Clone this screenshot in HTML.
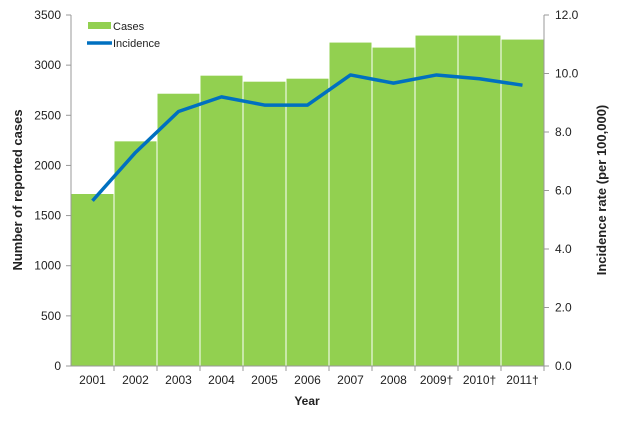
<!DOCTYPE html>
<html><head><meta charset="utf-8"><style>
body{margin:0;background:#fff}
svg text{font-family:"Liberation Sans",sans-serif;fill:#222}
</style></head><body>
<svg id="chart" width="620" height="416" viewBox="0 0 620 416"></svg>
<script>
const years=["2001","2002","2003","2004","2005","2006","2007","2008","2009†","2010†","2011†"];
const cases=[1720,2245,2720,2900,2840,2870,3230,3180,3300,3300,3260];
const incidence=[5.65,7.3,8.7,9.2,8.92,8.92,9.95,9.67,9.95,9.82,9.6];
const leftTicks=[0,500,1000,1500,2000,2500,3000,3500];
const rightTicks=["0.0","2.0","4.0","6.0","8.0","10.0","12.0"];
const NS="http://www.w3.org/2000/svg";
const svg=document.getElementById('chart');
const X0=71,X1=544,Y0=366,Y1=15;
const bw=(X1-X0)/years.length;
const yL=v=>Y0-(v/3500)*(Y0-Y1);
const yR=v=>Y0-(v/12)*(Y0-Y1);
const xC=i=>X0+bw*(i+0.5);
function mk(t,a,p){const e=document.createElementNS(NS,t);for(const k in a)e.setAttribute(k,a[k]);(p||svg).appendChild(e);return e;}
cases.forEach((v,i)=>{
 const r=mk('rect',{x:X0+bw*i,y:yL(v),width:bw,height:Y0-yL(v),fill:'#92d050',stroke:'#fff','stroke-width':1});
 
 
});
const ax=mk('g',{stroke:'#999','stroke-width':1});


mk('line',{x1:X0,y1:Y1,x2:X0,y2:Y0},ax);
mk('line',{x1:X1,y1:Y1,x2:X1,y2:Y0},ax);
mk('line',{x1:X0,y1:Y0,x2:X1,y2:Y0},ax);
leftTicks.forEach(v=>{
 mk('line',{x1:X0-5,y1:yL(v),x2:X0,y2:yL(v)},ax);
 const t=mk('text',{x:X0-10,y:yL(v)+4,'text-anchor':'end','font-size':12});t.textContent=v;
 
 
});
rightTicks.forEach(v=>{
 const y=yR(parseFloat(v));
 mk('line',{x1:X1,y1:y,x2:X1+5,y2:y},ax);
 const t=mk('text',{x:X1+11,y:y+4,'font-size':12});t.textContent=v;
 
 
});
years.forEach((yv,i)=>{
 mk('line',{x1:X0+bw*(i+1),y1:Y0,x2:X0+bw*(i+1),y2:Y0+5},ax);
 const t=mk('text',{x:xC(i),y:Y0+18,'text-anchor':'middle','font-size':12});t.textContent=yv;
 
 
});
const pts=incidence.map((v,i)=>xC(i)+','+yR(v)).join(' ');
const pl=mk('polyline',{points:pts,fill:'none',stroke:'#0070c0','stroke-width':3.5,'stroke-linejoin':'round'});


// legend
const lg=mk('g',{});


mk('rect',{x:88,y:22,width:23,height:7,fill:'#92d050'},lg);
let t=mk('text',{x:113,y:30,'font-size':11},lg);t.textContent='Cases';
mk('line',{x1:87,y1:43,x2:112,y2:43,stroke:'#0070c0','stroke-width':3.5},lg);
t=mk('text',{x:113,y:47,'font-size':11},lg);t.textContent='Incidence';
t=mk('text',{x:0,y:0,'font-size':13,'font-weight':'bold','text-anchor':'middle',transform:'translate(22,190) rotate(-90)'});t.textContent='Number of reported cases';

t=mk('text',{x:0,y:0,'font-size':13,'font-weight':'bold','text-anchor':'middle',transform:'translate(606,190) rotate(-90)'});t.textContent='Incidence rate (per 100,000)';

t=mk('text',{x:307,y:405,'font-size':12,'font-weight':'bold','text-anchor':'middle'});t.textContent='Year';

</script>
</body></html>
